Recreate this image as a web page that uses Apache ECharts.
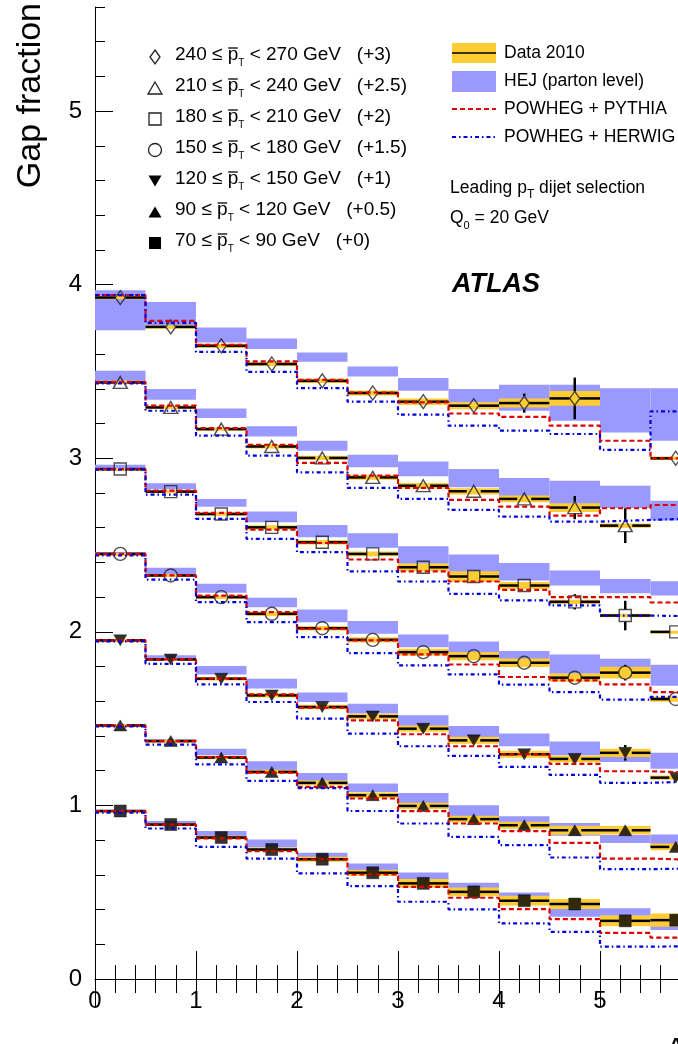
<!DOCTYPE html>
<html>
<head>
<meta charset="utf-8">
<script src="https://cdn.jsdelivr.net/npm/echarts@6/dist/echarts.min.js"></script>
<style>
  html, body { margin: 0; padding: 0; overflow: hidden; background: #fff; }
  #chart { width: 760px; height: 1044px; }
</style>
</head>
<body>
<div id="chart"></div>
<script>
// Rapidity-interval bins (Δy)
const binEdges = [0, 0.5, 1, 1.5, 2, 2.5, 3, 3.5, 4, 4.5, 5, 5.5, 6];

// Average-pT slices and the vertical offset applied to each when drawn
const ptLow   = [240, 210, 180, 150, 120, 90, 70];
const ptHigh  = [270, 240, 210, 180, 150, 120, 90];
const offsets = [3, 2.5, 2, 1.5, 1, 0.5, 0];

// Measured gap fraction per slice (rows follow ptLow), one value per Δy bin
const gapData = [
  [0.926, 0.757, 0.648, 0.543, 0.446, 0.376, 0.326, 0.303, 0.318, 0.345, null, 0.000],
  [0.937, 0.793, 0.668, 0.568, 0.502, 0.390, 0.342, 0.310, 0.266, 0.216, 0.112, null],
  [0.938, 0.808, 0.679, 0.602, 0.516, 0.449, 0.372, 0.319, 0.267, 0.173, 0.094, 0.000],
  [0.949, 0.825, 0.700, 0.604, 0.521, 0.454, 0.383, 0.360, 0.322, 0.236, 0.265, 0.113],
  [0.951, 0.841, 0.730, 0.634, 0.567, 0.513, 0.442, 0.375, 0.295, 0.268, 0.303, 0.160],
  [0.961, 0.871, 0.776, 0.693, 0.630, 0.559, 0.497, 0.421, 0.386, 0.357, 0.357, 0.261],
  [0.968, 0.890, 0.815, 0.746, 0.690, 0.612, 0.551, 0.502, 0.451, 0.432, 0.335, 0.339]
];

// Systematic uncertainty (half width of the yellow band)
const gapSys = [
  [0.010, 0.010, 0.012, 0.012, 0.012, 0.014, 0.019, 0.020, 0.026, 0.043, null, 0.010],
  [0.008, 0.009, 0.010, 0.012, 0.012, 0.014, 0.016, 0.018, 0.020, 0.025, 0.012, null],
  [0.006, 0.008, 0.010, 0.012, 0.013, 0.014, 0.022, 0.030, 0.020, 0.012, 0.010, 0.006],
  [0.006, 0.008, 0.010, 0.012, 0.013, 0.015, 0.020, 0.024, 0.024, 0.024, 0.034, 0.015],
  [0.006, 0.008, 0.010, 0.012, 0.013, 0.015, 0.018, 0.020, 0.020, 0.019, 0.024, 0.012],
  [0.006, 0.008, 0.010, 0.012, 0.014, 0.016, 0.018, 0.020, 0.020, 0.026, 0.024, 0.019],
  [0.006, 0.008, 0.010, 0.012, 0.014, 0.018, 0.025, 0.025, 0.028, 0.029, 0.031, 0.038]
];

// Statistical uncertainty (vertical error bars)
const gapStat = [
  [0.004, 0.005, 0.006, 0.008, 0.010, 0.012, 0.015, 0.020, 0.055, 0.120, null, 0.010],
  [0.004, 0.005, 0.006, 0.008, 0.010, 0.012, 0.015, 0.018, 0.025, 0.067, 0.100, null],
  [0.003, 0.004, 0.005, 0.007, 0.009, 0.011, 0.013, 0.016, 0.020, 0.044, 0.085, 0.010],
  [0.003, 0.004, 0.005, 0.006, 0.008, 0.010, 0.012, 0.014, 0.016, 0.020, 0.045, 0.015],
  [0.002, 0.003, 0.004, 0.005, 0.006, 0.008, 0.010, 0.012, 0.014, 0.018, 0.045, 0.020],
  [0.002, 0.003, 0.004, 0.005, 0.006, 0.007, 0.009, 0.010, 0.012, 0.015, 0.020, 0.025],
  [0.002, 0.002, 0.003, 0.004, 0.005, 0.006, 0.008, 0.009, 0.011, 0.013, 0.018, 0.025]
];

// HEJ (parton level) prediction band
const hejLow = [
  [0.738, 0.753, 0.667, 0.629, 0.556, 0.471, 0.389, 0.322, 0.274, 0.216, 0.149, 0.101],
  [0.946, 0.837, 0.732, 0.626, 0.544, 0.448, 0.396, 0.333, 0.256, 0.237, 0.214, 0.141],
  [0.944, 0.821, 0.721, 0.631, 0.545, 0.484, 0.392, 0.344, 0.296, 0.267, 0.223, 0.209],
  [0.945, 0.834, 0.725, 0.642, 0.556, 0.489, 0.412, 0.374, 0.335, 0.259, 0.278, 0.190],
  [0.945, 0.847, 0.755, 0.673, 0.596, 0.529, 0.452, 0.385, 0.341, 0.289, 0.250, 0.212],
  [0.957, 0.871, 0.789, 0.703, 0.639, 0.578, 0.511, 0.434, 0.373, 0.325, 0.284, 0.265],
  [0.963, 0.896, 0.819, 0.758, 0.700, 0.627, 0.570, 0.522, 0.474, 0.359, 0.364, 0.282]
];
const hejHigh = [
  [0.968, 0.901, 0.753, 0.690, 0.609, 0.529, 0.462, 0.399, 0.424, 0.424, 0.404, 0.404],
  [1.005, 0.899, 0.787, 0.684, 0.601, 0.521, 0.482, 0.438, 0.387, 0.371, 0.342, 0.256],
  [0.963, 0.856, 0.766, 0.693, 0.616, 0.568, 0.493, 0.445, 0.397, 0.353, 0.305, 0.292],
  [0.960, 0.869, 0.777, 0.696, 0.629, 0.562, 0.485, 0.445, 0.389, 0.370, 0.345, 0.311],
  [0.955, 0.865, 0.803, 0.730, 0.650, 0.586, 0.519, 0.457, 0.414, 0.368, 0.300, 0.304],
  [0.965, 0.881, 0.827, 0.754, 0.687, 0.626, 0.572, 0.501, 0.438, 0.399, 0.329, 0.332],
  [0.973, 0.910, 0.853, 0.804, 0.727, 0.666, 0.614, 0.554, 0.499, 0.407, 0.407, 0.368]
];

// POWHEG + PYTHIA and POWHEG + HERWIG predictions
const powhegPythia = [
  [0.940, 0.792, 0.654, 0.558, 0.452, 0.379, 0.322, 0.258, 0.239, 0.188, 0.101, 0.000],
  [0.940, 0.803, 0.674, 0.578, 0.473, 0.400, 0.329, 0.260, 0.221, 0.170, 0.212, 0.231],
  [0.938, 0.814, 0.685, 0.589, 0.512, 0.417, 0.349, 0.290, 0.242, 0.200, 0.200, 0.169],
  [0.949, 0.825, 0.709, 0.614, 0.518, 0.451, 0.370, 0.312, 0.240, 0.220, 0.197, 0.153],
  [0.951, 0.841, 0.730, 0.640, 0.563, 0.490, 0.410, 0.341, 0.295, 0.239, 0.197, 0.187],
  [0.961, 0.871, 0.779, 0.689, 0.607, 0.540, 0.467, 0.396, 0.352, 0.284, 0.194, 0.185],
  [0.968, 0.890, 0.810, 0.736, 0.690, 0.602, 0.531, 0.468, 0.403, 0.345, 0.266, 0.238]
];
const powhegHerwig = [
  [0.940, 0.780, 0.613, 0.498, 0.404, 0.326, 0.251, 0.188, 0.159, 0.140, 0.049, 0.270],
  [0.931, 0.774, 0.630, 0.515, 0.419, 0.329, 0.266, 0.203, 0.164, 0.135, 0.145, 0.154],
  [0.935, 0.791, 0.651, 0.536, 0.459, 0.349, 0.290, 0.219, 0.181, 0.152, 0.094, 0.089],
  [0.940, 0.801, 0.671, 0.556, 0.470, 0.377, 0.307, 0.255, 0.196, 0.153, 0.109, 0.125],
  [0.945, 0.816, 0.697, 0.596, 0.500, 0.414, 0.341, 0.285, 0.222, 0.176, 0.130, 0.139],
  [0.956, 0.850, 0.737, 0.641, 0.600, 0.468, 0.396, 0.319, 0.271, 0.200, 0.133, 0.137],
  [0.959, 0.867, 0.761, 0.694, 0.608, 0.535, 0.445, 0.401, 0.320, 0.272, 0.186, 0.190]
];

// ---- styling ----
const FONT = '"Liberation Sans", Arial, Helvetica, sans-serif';
const YELLOW = '#ffcc33';
const HEJ_BLUE = '#9999ff';
const RED = '#dd0000';
const BLUE = '#0000dd';
const RED_DASH = [5, 3];
const BLUE_DASH = [4, 3, 1.5, 3];

const markerStyles = [
  { symbol: 'diamond',  size: [10, 14], filled: false, half: 5 },
  { symbol: 'triangle', size: [14, 12], filled: false, half: 7 },
  { symbol: 'rect',     size: [12, 12], filled: false, half: 6 },
  { symbol: 'circle',   size: [13, 13], filled: false, half: 6.5 },
  { symbol: 'triangle', size: [13, 11], filled: true,  half: 6.5, rotate: 180 },
  { symbol: 'triangle', size: [13, 11], filled: true,  half: 6.5 },
  { symbol: 'rect',     size: [12, 12], filled: true,  half: 6 }
];

const nBins = binEdges.length - 1;
const binCenter = b => (binEdges[b] + binEdges[b + 1]) / 2;

// items referencing (slice, bin) so the render functions can read the arrays
const hejItems = [], dataItems = [];
for (let s = 0; s < ptLow.length; s++) {
  for (let b = 0; b < nBins; b++) {
    hejItems.push([binCenter(b), (hejLow[s][b] + hejHigh[s][b]) / 2 + offsets[s], s, b]);
    if (gapData[s][b] !== null) dataItems.push([binCenter(b), gapData[s][b] + offsets[s], s, b]);
  }
}

function renderHej(params, api) {
  const s = api.value(2), b = api.value(3);
  const tl = api.coord([binEdges[b], hejHigh[s][b] + offsets[s]]);
  const br = api.coord([binEdges[b + 1], hejLow[s][b] + offsets[s]]);
  return {
    type: 'rect',
    shape: { x: tl[0], y: tl[1], width: br[0] - tl[0], height: Math.max(br[1] - tl[1], 1.5) },
    style: { fill: HEJ_BLUE }
  };
}

function renderData(params, api) {
  const s = api.value(2), b = api.value(3);
  const v = gapData[s][b] + offsets[s];
  const sys = gapSys[s][b] || 0, stat = gapStat[s][b] || 0;
  const pL = api.coord([binEdges[b], v]);
  const pR = api.coord([binEdges[b + 1], v]);
  const pC = api.coord([binCenter(b), v]);
  const sT = api.coord([binEdges[b], v + sys]);
  const sB = api.coord([binEdges[b], v - sys]);
  const eT = api.coord([binCenter(b), v + stat]);
  const eB = api.coord([binCenter(b), v - stat]);
  const half = markerStyles[s].half;
  const hh = markerStyles[s].size[1] / 2;
  const lineStyle = { stroke: '#000', lineWidth: 2.5 };
  const children = [
    { type: 'rect', shape: { x: pL[0], y: sT[1], width: pR[0] - pL[0], height: Math.max(sB[1] - sT[1], 3) },
      style: { fill: YELLOW } },
    { type: 'line', shape: { x1: pL[0], y1: pC[1], x2: pC[0] - half, y2: pC[1] }, style: lineStyle },
    { type: 'line', shape: { x1: pC[0] + half, y1: pC[1], x2: pR[0], y2: pC[1] }, style: lineStyle }
  ];
  if (pC[1] - eT[1] > hh) {
    children.push({ type: 'line', shape: { x1: pC[0], y1: eT[1], x2: pC[0], y2: pC[1] - hh }, style: lineStyle });
    children.push({ type: 'line', shape: { x1: pC[0], y1: pC[1] + hh, x2: pC[0], y2: eB[1] }, style: lineStyle });
  }
  return { type: 'group', children };
}

function stepPoints(values, s) {
  const pts = [];
  for (let b = 0; b < nBins; b++) {
    pts.push([binEdges[b], values[s][b] + offsets[s]]);
    pts.push([binEdges[b + 1], values[s][b] + offsets[s]]);
  }
  return pts;
}

const series = [
  { type: 'custom', name: 'HEJ', z: 1, renderItem: renderHej, data: hejItems,
    encode: { x: 0, y: 1 }, silent: true },
  { type: 'custom', name: 'Data 2010', z: 2, renderItem: renderData, data: dataItems,
    encode: { x: 0, y: 1 }, silent: true }
];
for (let s = 0; s < ptLow.length; s++) {
  const m = markerStyles[s];
  series.push({
    type: 'scatter', z: 3, silent: true,
    symbol: m.symbol, symbolSize: m.size, symbolRotate: m.rotate || 0,
    itemStyle: m.filled
      ? { color: '#000', borderColor: '#000', borderWidth: 0.5 }
      : { color: 'rgba(0,0,0,0)', borderColor: '#222', borderWidth: 1.4 },
    data: dataItems.filter(d => d[2] === s).map(d => [d[0], d[1]])
  });
}
for (let s = 0; s < ptLow.length; s++) {
  series.push({
    type: 'line', z: 4, silent: true, showSymbol: false, animation: false,
    data: stepPoints(powhegPythia, s),
    lineStyle: { color: RED, width: 2.2, type: RED_DASH }
  });
}
for (let s = 0; s < ptLow.length; s++) {
  series.push({
    type: 'line', z: 5, silent: true, showSymbol: false, animation: false,
    data: stepPoints(powhegHerwig, s),
    lineStyle: { color: BLUE, width: 2.2, type: BLUE_DASH }
  });
}

// ---- legend and annotations ----
const measureCtx = document.createElement('canvas').getContext('2d');
function textWidth(str, size) {
  measureCtx.font = size + 'px ' + FONT;
  return measureCtx.measureText(str).width;
}

function markerGraphic(s, cx, cy) {
  const m = markerStyles[s];
  const w = m.size[0], h = m.size[1];
  const style = m.filled ? { fill: '#000' } : { fill: 'none', stroke: '#222', lineWidth: 1.3 };
  if (m.symbol === 'diamond') {
    return { type: 'polygon', shape: { points: [[cx, cy - h / 2], [cx + w / 2, cy], [cx, cy + h / 2], [cx - w / 2, cy]] }, style };
  }
  if (m.symbol === 'triangle') {
    const pts = m.rotate ? [[cx - w / 2, cy - h / 2], [cx + w / 2, cy - h / 2], [cx, cy + h / 2]]
                         : [[cx, cy - h / 2], [cx + w / 2, cy + h / 2], [cx - w / 2, cy + h / 2]];
    return { type: 'polygon', shape: { points: pts }, style };
  }
  if (m.symbol === 'circle') {
    return { type: 'circle', shape: { cx, cy, r: w / 2 }, style };
  }
  return { type: 'rect', shape: { x: cx - w / 2, y: cy - h / 2, width: w, height: h }, style };
}

const graphics = [];
const LEG_FS = 19;
for (let s = 0; s < ptLow.length; s++) {
  const rowY = 55 + s * 31;
  const tx = 175;
  graphics.push(markerGraphic(s, 155, rowY + 2));
  graphics.push({
    type: 'text', x: tx, y: rowY, silent: true,
    style: {
      text: `{n|${ptLow[s]} ≤ p}{s|T}{n| < ${ptHigh[s]} GeV   (+${offsets[s]})}`,
      verticalAlign: 'middle', align: 'left',
      rich: {
        n: { fontSize: LEG_FS, fontFamily: FONT, fill: '#000', lineHeight: 26 },
        s: { fontSize: 10, fontFamily: FONT, fill: '#000', lineHeight: 10, verticalAlign: 'bottom' }
      }
    }
  });
  const px = tx + textWidth(`${ptLow[s]} ≤ `, LEG_FS);
  const pw = textWidth('p', LEG_FS);
  graphics.push({ type: 'line', silent: true,
    shape: { x1: px + 0.5, y1: rowY - 7, x2: px + pw - 0.5, y2: rowY - 7 },
    style: { stroke: '#000', lineWidth: 1.3 } });
}

const RF = 17.5;
const rightLegend = [
  { label: 'Data 2010', y: 53 },
  { label: 'HEJ (parton level)', y: 81 },
  { label: 'POWHEG + PYTHIA', y: 109 },
  { label: 'POWHEG + HERWIG', y: 137 }
];
graphics.push({ type: 'rect', shape: { x: 452, y: 43, width: 44, height: 20 }, style: { fill: YELLOW } });
graphics.push({ type: 'line', shape: { x1: 452, y1: 53, x2: 496, y2: 53 }, style: { stroke: '#000', lineWidth: 1.5 } });
graphics.push({ type: 'rect', shape: { x: 452, y: 71, width: 44, height: 21 }, style: { fill: HEJ_BLUE } });
graphics.push({ type: 'line', shape: { x1: 452, y1: 109, x2: 496, y2: 109 }, style: { stroke: RED, lineWidth: 2, lineDash: RED_DASH } });
graphics.push({ type: 'line', shape: { x1: 452, y1: 137, x2: 496, y2: 137 }, style: { stroke: BLUE, lineWidth: 2, lineDash: BLUE_DASH } });
rightLegend.forEach(r => graphics.push({
  type: 'text', x: 504, y: r.y, silent: true,
  style: { text: r.label, fontSize: RF, fontFamily: FONT, fill: '#000', verticalAlign: 'middle', align: 'left' }
}));
graphics.push({
  type: 'text', x: 450, y: 188, silent: true,
  style: {
    text: '{n|Leading p}{s|T}{n| dijet selection}', verticalAlign: 'middle', align: 'left',
    rich: {
      n: { fontSize: RF, fontFamily: FONT, fill: '#000', lineHeight: 26 },
      s: { fontSize: 12, fontFamily: FONT, fill: '#000', lineHeight: 12, verticalAlign: 'bottom' }
    }
  }
});
graphics.push({
  type: 'text', x: 450, y: 218, silent: true,
  style: {
    text: '{n|Q}{s|0}{n| = 20 GeV}', verticalAlign: 'middle', align: 'left',
    rich: {
      n: { fontSize: RF, fontFamily: FONT, fill: '#000', lineHeight: 26 },
      s: { fontSize: 11, fontFamily: FONT, fill: '#000', lineHeight: 11, verticalAlign: 'bottom' }
    }
  }
});
graphics.push({
  type: 'text', x: 452, y: 285, silent: true,
  style: { text: 'ATLAS', fontSize: 27, fontStyle: 'italic', fontWeight: 'bold', fontFamily: FONT,
           fill: '#000', verticalAlign: 'middle', align: 'left' }
});
graphics.push({
  type: 'text', x: 31, y: 3, rotation: Math.PI / 2, silent: true,
  style: { text: 'Gap fraction', fontSize: 34, fontFamily: FONT, fill: '#000',
           align: 'right', verticalAlign: 'middle' }
});
// x-axis title, right-aligned at the end of the axis below the tick labels
graphics.push({
  type: 'text', x: 701, y: 1035, silent: true,
  style: { text: 'Δy', fontSize: 30, fontFamily: FONT, fill: '#000', align: 'right', verticalAlign: 'top' }
});

const axisLineStyle = { color: '#000', width: 1 };
const option = {
  animation: false,
  grid: { left: 95, top: 7, width: 606, height: 972, containLabel: false, outerBoundsMode: 'none' },
  xAxis: [
    {
      type: 'value', min: 0, max: 6, interval: 1, position: 'bottom',
      axisLine: { show: true, lineStyle: axisLineStyle },
      axisTick: { show: true, inside: true, length: 28, lineStyle: axisLineStyle },
      minorTick: { show: true, splitNumber: 5, length: 14, lineStyle: axisLineStyle },
      axisLabel: { fontSize: 24, fontFamily: FONT, color: '#000', margin: 10 },
      splitLine: { show: false }, minorSplitLine: { show: false }
    },
    {
      type: 'value', min: 0, max: 6, interval: 1, position: 'top',
      axisLine: { show: true, lineStyle: axisLineStyle },
      axisTick: { show: true, inside: true, length: 28, lineStyle: axisLineStyle },
      minorTick: { show: true, splitNumber: 5, length: 14, lineStyle: axisLineStyle },
      axisLabel: { show: false }, splitLine: { show: false }
    }
  ],
  yAxis: [
    {
      type: 'value', min: 0, max: 5.6, interval: 0.2, position: 'left',
      axisLine: { show: true, lineStyle: axisLineStyle },
      axisTick: { show: true, inside: true, length: 10, lineStyle: axisLineStyle },
      axisLabel: { show: false }, splitLine: { show: false }
    },
    {
      type: 'value', min: 0, max: 5.6, interval: 1, position: 'left', offset: 0,
      axisLine: { show: false },
      axisTick: { show: true, inside: true, length: 18, lineStyle: axisLineStyle },
      axisLabel: { fontSize: 24, fontFamily: FONT, color: '#000', margin: 13, showMaxLabel: false,
                   formatter: v => (Math.abs(v - Math.round(v)) < 1e-6 ? String(Math.round(v)) : '') },
      splitLine: { show: false }
    }
  ],
  series,
  graphic: graphics
};

const chart = echarts.init(document.getElementById('chart'), null, { renderer: 'canvas' });
chart.setOption(option);
</script>
</body>
</html>
